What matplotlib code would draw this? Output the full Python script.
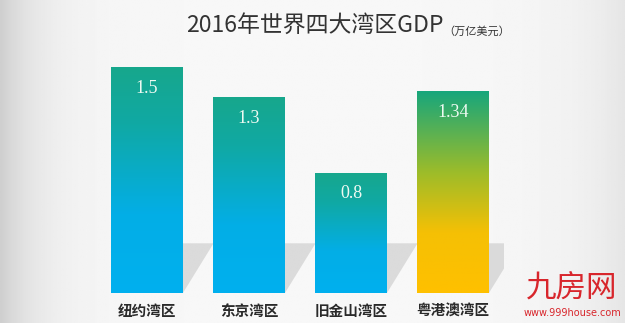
import numpy as np
import matplotlib.pyplot as plt
from matplotlib.colors import LinearSegmentedColormap
from matplotlib.patches import Polygon

plt.rcParams['font.family'] = ['Noto Sans CJK SC', 'DejaVu Sans']

# data
regions = ['纽约湾区', '东京湾区', '旧金山湾区', '粤港澳湾区']
gdp = [1.5, 1.3, 0.8, 1.34]
title = '2016年世界四大湾区GDP'
unit = '（万亿美元）'

blue_cmap = LinearSegmentedColormap.from_list(
    'b', [(0, '#00b0ef'), (0.35, '#03aee6'), (0.75, '#10a9a4'), (1, '#17a78c')])
gold_cmap = LinearSegmentedColormap.from_list(
    'g', [(0, '#ffc000'), (0.3, '#f5c005'), (0.6, '#9cbc2a'), (1, '#17a67c')])
bar_cmaps = [blue_cmap, blue_cmap, blue_cmap, gold_cmap]

fig = plt.figure(figsize=(6.25, 3.23), dpi=100)

# background vignette
bg = fig.add_axes([0, 0, 1, 1], zorder=-5)
xx = np.linspace(0, 1, 300)
prof = 0.97 - 0.16 * np.exp(-xx / 0.06) - 0.07 * np.exp(-(1 - xx) / 0.08)
img = np.tile(prof, (50, 1))
bg.imshow(img, cmap='gray', vmin=0, vmax=1, aspect='auto', extent=[0, 1, 0, 1])
bg.set_xlim(0, 1)
bg.set_ylim(0, 1)
bg.axis('off')

ax = fig.add_axes([96 / 625, 30 / 323, 408 / 625, 241 / 323])
ax.axis('off')
ax.patch.set_alpha(0)

x = np.arange(len(gdp))
w = 0.705
bars = ax.bar(x, gdp, width=w, color='none', zorder=3)

for i, (b, v) in enumerate(zip(bars, gdp)):
    xl, xr = b.get_x(), b.get_x() + b.get_width()
    # shadow
    sh = Polygon([(xl, 0), (xr, 0), (xr + 0.3, 0.33), (xl + 0.3, 0.33)],
                 closed=True, facecolor='#c8c8c8', edgecolor='none', alpha=0.6, zorder=1)
    ax.add_patch(sh)
    grad = np.linspace(0, 1, 256).reshape(-1, 1)
    im = ax.imshow(grad, cmap=bar_cmaps[i], origin='lower', aspect='auto',
                   extent=[xl, xr, 0, v], zorder=3)
    im.set_clip_path(b)
    ax.text(x[i], v - 0.14, f'{v:g}', ha='center', va='center', color='#eefaf2',
            fontsize=13, family=['Liberation Serif'], zorder=4)
    ax.text(x[i], -0.12, regions[i], ha='center', va='center', color='#2a2a2a',
            fontsize=10.5, fontweight='bold', zorder=4)

ax.set_xlim(-0.5, 3.5)
ax.set_ylim(0, 1.6)

fig.text(186 / 625, 1 - 25 / 323, title, ha='left', va='center', fontsize=16.5,
         fontweight=300, color='#333333')
fig.text(443 / 625, 1 - 31 / 323, unit, ha='left', va='center', fontsize=8,
         color='#333333')

# watermark
fig.text(572 / 625, 1 - 288 / 323, '九房网', ha='center', va='center', fontsize=22,
         color='#d8262c')
fig.text(572 / 625, 1 - 313 / 323, 'www.999house.com', ha='center', va='center',
         fontsize=7, color='#d8262c', family=['DejaVu Sans'])

fig.savefig('out.png', dpi=100)
